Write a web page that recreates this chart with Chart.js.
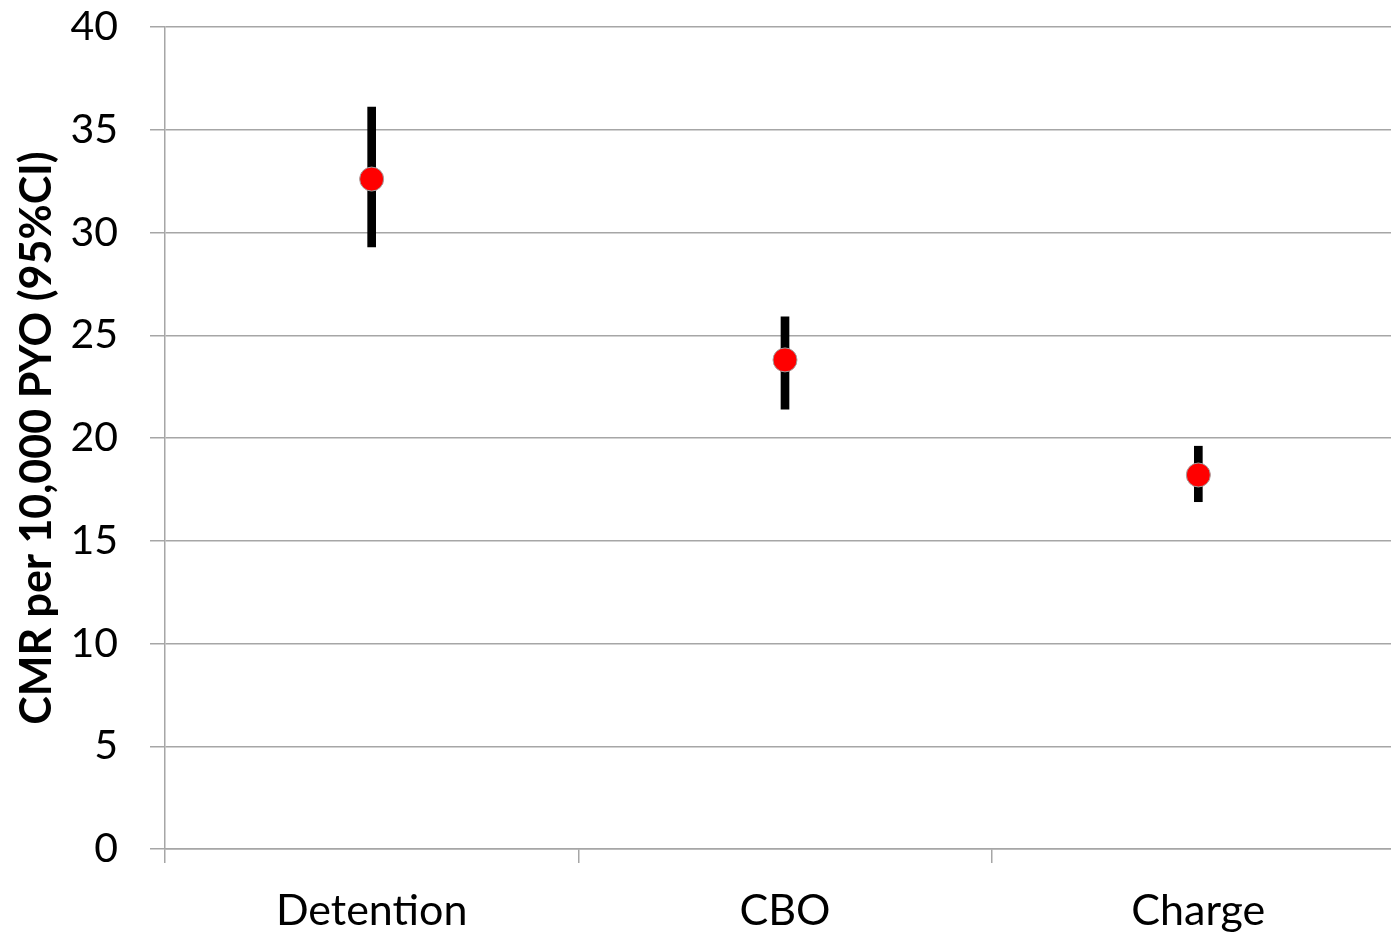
<!DOCTYPE html>
<html>
<head>
<meta charset="utf-8">
<script src="https://cdn.jsdelivr.net/npm/chart.js@4"></script>
<style>
html,body{margin:0;padding:0;background:#fff;overflow:hidden;width:1391px;height:936px;}
#wrap{width:1418px;height:936px;position:relative;}
</style>
</head>
<body>
<div id="wrap"><canvas id="c"></canvas></div>
<script>
const categories = ["Detention", "CBO", "Charge"];
const cmrValues = [32.6, 23.8, 18.2];
const ciLower = [29.3, 21.4, 16.9];
const ciUpper = [36.1, 25.9, 19.6];
const yTicks = [0, 5, 10, 15, 20, 25, 30, 35, 40];
const yTitle = "CMR per 10,000 PYO (95%CI)";

const FONT = "Lato, 'Open Sans', sans-serif";
const gridColor = "#a6a6a6";

new Chart(document.getElementById("c"), {
  data: {
    labels: categories,
    datasets: [
      {
        type: "line",
        label: "CMR",
        data: cmrValues,
        showLine: false,
        pointRadius: 12,
        pointHoverRadius: 12,
        pointBackgroundColor: "#ff0000",
        pointBorderColor: "#a0a0a0",
        pointBorderWidth: 1,
        order: 0
      },
      {
        type: "bar",
        label: "95% CI",
        data: categories.map((c, i) => [ciLower[i], ciUpper[i]]),
        backgroundColor: "#000000",
        borderWidth: 0,
        barThickness: 8,
        grouped: false,
        order: 1
      }
    ]
  },
  options: {
    responsive: true,
    maintainAspectRatio: false,
    animation: false,
    layout: { padding: { top: 27, left: 0, right: 0, bottom: 0 } },
    plugins: { legend: { display: false }, tooltip: { enabled: false } },
    scales: {
      x: {
        offset: true,
        afterFit: (s) => { s.height = 87; s.paddingLeft = 0; s.paddingRight = 0; },
        grid: { offset: true, drawOnChartArea: false, drawTicks: true, tickLength: 14, color: gridColor, lineWidth: 1.5 },
        border: { display: true, color: gridColor, width: 1.5 },
        ticks: { color: "#000", font: { family: FONT, size: 43 }, padding: 22 }
      },
      y: {
        min: 0, max: 40,
        afterBuildTicks: (s) => { s.ticks = yTicks.map(v => ({ value: v })); },
        afterFit: (s) => { s.width = 165; s.paddingTop = 0; s.paddingBottom = 0; },
        grid: { color: gridColor, lineWidth: 1.5, tickLength: 15 },
        border: { display: true, color: gridColor, width: 1.5 },
        ticks: { color: "#000", font: { family: FONT, size: 41 }, padding: 32 },
        title: { display: true, text: yTitle, color: "#000", font: { family: FONT, size: 43, weight: "bold" }, padding: { top: 11, bottom: 0 } }
      }
    }
  }
});
</script>
</body>
</html>
